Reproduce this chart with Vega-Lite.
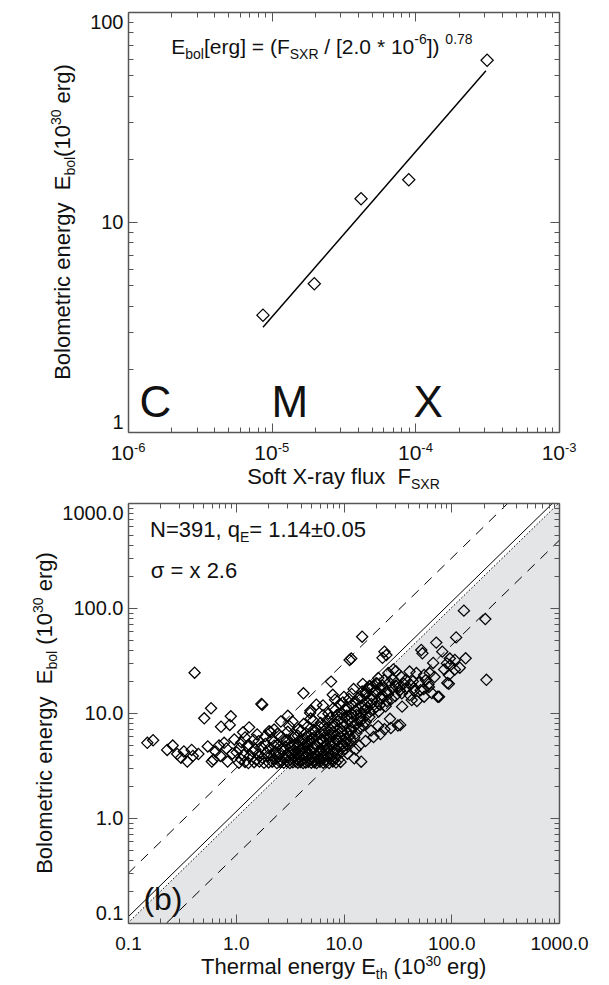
{
"$schema": "https://vega.github.io/schema/vega-lite/v6.json",
"padding": {"left": 31, "top": 11, "right": 5, "bottom": 5},
"spacing": 9,
"config": {
  "font": "Liberation Sans",
  "view": {"stroke": null},
  "axis": {"domainColor": "#555", "domainWidth": 1.5, "tickColor": "#555", "tickWidth": 1, "labelColor": "#111", "labelFont": "Liberation Sans", "labelFontSize": 20, "grid": false},
  "text": {"font": "Liberation Sans", "color": "#111"}
},
"vconcat": [
{
  "width": 431, "height": 420,
  "encoding": {
    "x": {"field": "x", "type": "quantitative", "scale": {"type": "log", "domain": [1e-6, 1e-3], "nice": false}, "axis": null},
    "y": {"field": "y", "type": "quantitative", "scale": {"type": "log", "domain": [1, 100], "nice": false}, "axis": null}
  },
  "resolve": {"axis": {"x": "independent", "y": "independent"}},
  "layer": [
    {
      "data": {"values": [{"x": 8.7e-6, "y": 3.6}, {"x": 1.98e-5, "y": 5.08}, {"x": 4.19e-5, "y": 12.9}, {"x": 9.0e-5, "y": 15.9}, {"x": 3.16e-4, "y": 58.9}]},
      "mark": {"type": "point", "shape": "diamond", "filled": false, "size": 150, "color": "#000", "strokeWidth": 1.2, "opacity": 1},
      "encoding": {
        "x": {"field": "x", "type": "quantitative", "scale": {"type": "log", "domain": [1e-6, 1e-3], "nice": false}, "axis": {"orient": "bottom", "values": [1e-6, 1e-5, 1e-4, 1e-3], "labels": false, "tickSize": -9, "domain": true, "title": null, "zindex": 1}},
        "y": {"field": "y", "type": "quantitative", "scale": {"type": "log", "domain": [1, 100], "nice": false}, "axis": {"orient": "left", "values": [1, 10, 100], "labelExpr": "datum.value >= 100 ? '100' : datum.value >= 10 ? '10' : '1'", "labelFlush": true, "labelPadding": 14, "labelOverlap": false, "tickSize": -9, "domain": true, "title": null, "zindex": 1}}
      }
    },
    {
      "data": {"values": [{"x": 8.7e-6, "y": 3.15}, {"x": 3.1e-4, "y": 52.5}]},
      "mark": {"type": "line", "color": "#000", "strokeWidth": 1.5},
      "encoding": {
        "x": {"field": "x", "type": "quantitative", "scale": {"type": "log", "domain": [1e-6, 1e-3], "nice": false}, "axis": {"orient": "top", "values": [1e-6, 1e-5, 1e-4, 1e-3], "labels": false, "tickSize": -9, "domain": true, "title": null, "zindex": 1}},
        "y": {"field": "y", "type": "quantitative", "scale": {"type": "log", "domain": [1, 100], "nice": false}, "axis": {"orient": "right", "values": [1, 10, 100], "labels": false, "tickSize": -9, "domain": true, "title": null, "zindex": 1}}
      }
    },
    {
      "data": {"values": [{"x": 1.55e-6, "y": 1.18, "t": "C"}, {"x": 1.34e-5, "y": 1.18, "t": "M"}, {"x": 1.23e-4, "y": 1.18, "t": "X"}]},
      "mark": {"type": "text", "fontSize": 44, "align": "center", "baseline": "alphabetic"},
      "encoding": {
        "text": {"field": "t"},
        "x": {"field": "x", "type": "quantitative", "scale": {"type": "log", "domain": [1e-6, 1e-3], "nice": false}, "axis": {"orient": "bottom", "values": [2e-6, 3e-6, 4e-6, 5e-6, 6e-6, 7e-6, 8e-6, 9e-6, 2e-5, 3e-5, 4e-5, 5e-5, 6e-5, 7e-5, 8e-5, 9e-5, 2e-4, 3e-4, 4e-4, 5e-4, 6e-4, 7e-4, 8e-4, 9e-4], "labels": false, "tickSize": -5, "domain": false, "title": null, "zindex": 1}},
        "y": {"field": "y", "type": "quantitative", "scale": {"type": "log", "domain": [1, 100], "nice": false}, "axis": {"orient": "left", "values": [2, 3, 4, 5, 6, 7, 8, 9, 20, 30, 40, 50, 60, 70, 80, 90], "labels": false, "tickSize": -5, "domain": false, "title": null, "zindex": 1}}
      }
    },
    {
      "data": {"values": [{"x": 1e-6, "y": 1, "b": "10", "e": "-6"}, {"x": 1e-5, "y": 1, "b": "10", "e": "-5"}, {"x": 1e-4, "y": 1, "b": "10", "e": "-4"}, {"x": 1e-3, "y": 1, "b": "10", "e": "-3"}]},
      "mark": {"type": "text", "fontSize": 21, "align": "right", "baseline": "alphabetic", "dx": 6, "dy": 28},
      "encoding": {
        "text": {"field": "b"},
        "x": {"field": "x", "type": "quantitative", "scale": {"type": "log", "domain": [1e-6, 1e-3], "nice": false}, "axis": {"orient": "top", "values": [2e-6, 3e-6, 4e-6, 5e-6, 6e-6, 7e-6, 8e-6, 9e-6, 2e-5, 3e-5, 4e-5, 5e-5, 6e-5, 7e-5, 8e-5, 9e-5, 2e-4, 3e-4, 4e-4, 5e-4, 6e-4, 7e-4, 8e-4, 9e-4], "labels": false, "tickSize": -5, "domain": false, "title": null, "zindex": 1}},
        "y": {"field": "y", "type": "quantitative", "scale": {"type": "log", "domain": [1, 100], "nice": false}, "axis": {"orient": "right", "values": [2, 3, 4, 5, 6, 7, 8, 9, 20, 30, 40, 50, 60, 70, 80, 90], "labels": false, "tickSize": -5, "domain": false, "title": null, "zindex": 1}}
      }
    },
    {
      "data": {"values": [{"x": 1e-6, "y": 1, "b": "10", "e": "-6"}, {"x": 1e-5, "y": 1, "b": "10", "e": "-5"}, {"x": 1e-4, "y": 1, "b": "10", "e": "-4"}, {"x": 1e-3, "y": 1, "b": "10", "e": "-3"}]},
      "mark": {"type": "text", "fontSize": 13, "align": "left", "baseline": "alphabetic", "dx": 6, "dy": 20},
      "encoding": {"text": {"field": "e"}}
    },
    {"data": {"values": [{"x": 2e-6, "y": 63, "t": "E"}]}, "mark": {"type": "text", "fontSize": 21, "align": "left", "baseline": "alphabetic", "dx": 0, "dy": 0}, "encoding": {"text": {"field": "t"}}},
    {"data": {"values": [{"x": 2e-6, "y": 63, "t": "bol"}]}, "mark": {"type": "text", "fontSize": 14, "align": "left", "baseline": "alphabetic", "dx": 14, "dy": 5}, "encoding": {"text": {"field": "t"}}},
    {"data": {"values": [{"x": 2e-6, "y": 63, "t": "[erg] = (F"}]}, "mark": {"type": "text", "fontSize": 21, "align": "left", "baseline": "alphabetic", "dx": 32.7, "dy": 0}, "encoding": {"text": {"field": "t"}}},
    {"data": {"values": [{"x": 2e-6, "y": 63, "t": "SXR"}]}, "mark": {"type": "text", "fontSize": 14, "align": "left", "baseline": "alphabetic", "dx": 118.5, "dy": 5}, "encoding": {"text": {"field": "t"}}},
    {"data": {"values": [{"x": 2e-6, "y": 63, "t": "/ [2.0 * 10"}]}, "mark": {"type": "text", "fontSize": 21, "align": "left", "baseline": "alphabetic", "dx": 153.1, "dy": 0}, "encoding": {"text": {"field": "t"}}},
    {"data": {"values": [{"x": 2e-6, "y": 63, "t": "-6"}]}, "mark": {"type": "text", "fontSize": 14, "align": "left", "baseline": "alphabetic", "dx": 243, "dy": -10}, "encoding": {"text": {"field": "t"}}},
    {"data": {"values": [{"x": 2e-6, "y": 63, "t": "])"}]}, "mark": {"type": "text", "fontSize": 21, "align": "left", "baseline": "alphabetic", "dx": 255.4, "dy": 0}, "encoding": {"text": {"field": "t"}}},
    {"data": {"values": [{"x": 2e-6, "y": 63, "t": "0.78"}]}, "mark": {"type": "text", "fontSize": 14, "align": "left", "baseline": "alphabetic", "dx": 274.1, "dy": -10}, "encoding": {"text": {"field": "t"}}},
    {"data": {"values": [{"x": 1e-6, "y": 10, "t": "Bolometric energy\u00a0\u00a0E"}]}, "mark": {"type": "text", "fontSize": 22, "angle": 270, "align": "left", "baseline": "alphabetic", "dx": -157.8, "dy": -58}, "encoding": {"text": {"field": "t"}}},
    {"data": {"values": [{"x": 1e-6, "y": 10, "t": "bol"}]}, "mark": {"type": "text", "fontSize": 14, "angle": 270, "align": "left", "baseline": "alphabetic", "dx": 46.4, "dy": -53}, "encoding": {"text": {"field": "t"}}},
    {"data": {"values": [{"x": 1e-6, "y": 10, "t": "(10"}]}, "mark": {"type": "text", "fontSize": 22, "angle": 270, "align": "left", "baseline": "alphabetic", "dx": 65.1, "dy": -58}, "encoding": {"text": {"field": "t"}}},
    {"data": {"values": [{"x": 1e-6, "y": 10, "t": "30"}]}, "mark": {"type": "text", "fontSize": 14, "angle": 270, "align": "left", "baseline": "alphabetic", "dx": 96.9, "dy": -67}, "encoding": {"text": {"field": "t"}}},
    {"data": {"values": [{"x": 1e-6, "y": 10, "t": "erg)"}]}, "mark": {"type": "text", "fontSize": 22, "angle": 270, "align": "left", "baseline": "alphabetic", "dx": 118.6, "dy": -58}, "encoding": {"text": {"field": "t"}}},
    {"data": {"values": [{"x": 3.162e-5, "y": 1, "t": "Soft X-ray flux\u00a0\u00a0F"}]}, "mark": {"type": "text", "fontSize": 22, "align": "left", "baseline": "alphabetic", "dx": -96.3, "dy": 52}, "encoding": {"text": {"field": "t"}}},
    {"data": {"values": [{"x": 3.162e-5, "y": 1, "t": "SXR"}]}, "mark": {"type": "text", "fontSize": 14, "align": "left", "baseline": "alphabetic", "dx": 67.5, "dy": 57}, "encoding": {"text": {"field": "t"}}}
  ]
},
{
  "width": 431, "height": 420,
  "encoding": {
    "x": {"field": "x", "type": "quantitative", "scale": {"type": "log", "domain": [0.1, 1000], "nice": false}, "axis": null},
    "y": {"field": "y", "type": "quantitative", "scale": {"type": "log", "domain": [0.1, 1000], "nice": false}, "axis": null}
  },
  "resolve": {"axis": {"x": "independent", "y": "independent"}},
  "layer": [
    {
      "data": {"values": [{"x": 0.1, "y": 0.1}, {"x": 1000, "y": 1000}]},
      "mark": {"type": "area", "color": "#e4e5e7", "opacity": 1},
      "encoding": {
        "x": {"field": "x", "type": "quantitative", "scale": {"type": "log", "domain": [0.1, 1000], "nice": false}, "axis": {"orient": "bottom", "values": [0.2, 0.3, 0.4, 0.5, 0.6, 0.7, 0.8, 0.9, 2, 3, 4, 5, 6, 7, 8, 9, 20, 30, 40, 50, 60, 70, 80, 90, 200, 300, 400, 500, 600, 700, 800, 900], "labels": false, "tickSize": -5, "domain": false, "title": null, "zindex": 1}},
        "y": {"field": "y", "type": "quantitative", "scale": {"type": "log", "domain": [0.1, 1000], "nice": false}, "axis": {"orient": "left", "values": [0.2, 0.3, 0.4, 0.5, 0.6, 0.7, 0.8, 0.9, 2, 3, 4, 5, 6, 7, 8, 9, 20, 30, 40, 50, 60, 70, 80, 90, 200, 300, 400, 500, 600, 700, 800, 900], "labels": false, "tickSize": -5, "domain": false, "title": null, "zindex": 1}},
        "y2": {"datum": 0.1}
      }
    },
    {
      "data": {"values": [{"x": 0.1, "y": 0.1}, {"x": 1000, "y": 1000}]},
      "mark": {"type": "line", "color": "#000", "strokeWidth": 1, "strokeDash": [1.5, 2]},
      "encoding": {
        "x": {"field": "x", "type": "quantitative", "scale": {"type": "log", "domain": [0.1, 1000], "nice": false}, "axis": {"orient": "top", "values": [0.2, 0.3, 0.4, 0.5, 0.6, 0.7, 0.8, 0.9, 2, 3, 4, 5, 6, 7, 8, 9, 20, 30, 40, 50, 60, 70, 80, 90, 200, 300, 400, 500, 600, 700, 800, 900], "labels": false, "tickSize": -5, "domain": false, "title": null, "zindex": 1}},
        "y": {"field": "y", "type": "quantitative", "scale": {"type": "log", "domain": [0.1, 1000], "nice": false}, "axis": {"orient": "right", "values": [0.2, 0.3, 0.4, 0.5, 0.6, 0.7, 0.8, 0.9, 2, 3, 4, 5, 6, 7, 8, 9, 20, 30, 40, 50, 60, 70, 80, 90, 200, 300, 400, 500, 600, 700, 800, 900], "labels": false, "tickSize": -5, "domain": false, "title": null, "zindex": 1}}
      }
    },
    {
      "data": {"values": [{"x": 0.1, "y": 0.114}, {"x": 877, "y": 1000}]},
      "mark": {"type": "line", "color": "#000", "strokeWidth": 1},
      "encoding": {
        "x": {"field": "x", "type": "quantitative", "scale": {"type": "log", "domain": [0.1, 1000], "nice": false}, "axis": {"orient": "top", "values": [0.1, 1, 10, 100, 1000], "labels": false, "tickSize": -9, "domain": true, "title": null, "zindex": 1}},
        "y": {"field": "y", "type": "quantitative", "scale": {"type": "log", "domain": [0.1, 1000], "nice": false}, "axis": {"orient": "right", "values": [0.1, 1, 10, 100, 1000], "labels": false, "tickSize": -9, "domain": true, "title": null, "zindex": 1}}
      }
    },
    {
      "data": {"values": [{"x": 0.1, "y": 0.296}, {"x": 337.4, "y": 1000}]},
      "mark": {"type": "line", "color": "#000", "strokeWidth": 1, "strokeDash": [10, 8]},
      "encoding": {}
    },
    {
      "data": {"values": [{"x": 0.228, "y": 0.1}, {"x": 1000, "y": 438.5}]},
      "mark": {"type": "line", "color": "#000", "strokeWidth": 1, "strokeDash": [10, 8]},
      "encoding": {}
    },
    {
      "data": {"values": [
{"x":0.151,"y":5.2},{"x":0.171,"y":5.5},{"x":0.231,"y":4.45},{"x":0.26,"y":4.9},{"x":0.286,"y":4.07},{"x":0.31,"y":3.75},{"x":0.355,"y":3.45},{"x":0.33,"y":4.3},{"x":0.39,"y":4.45},{"x":0.4,"y":3.9},{"x":0.45,"y":4.07},{"x":0.415,"y":24.2},{"x":0.51,"y":8.9},{"x":0.59,"y":11.1},{"x":0.6,"y":3.45},{"x":0.65,"y":4.3},{"x":0.7,"y":4.9},{"x":0.72,"y":3.9},{"x":0.73,"y":7.4},{"x":0.88,"y":7.7},{"x":0.9,"y":9.3},{"x":0.84,"y":3.45},{"x":0.93,"y":4.1},{"x":0.78,"y":5.2},{"x":0.97,"y":5.6},{"x":0.55,"y":4.8},{"x":0.62,"y":3.6},{"x":0.82,"y":4.6},{"x":1.73,"y":12.2},{"x":1.76,"y":12.0},{"x":2.1,"y":6.6},{"x":3.36,"y":8.3},{"x":4.25,"y":15.4},{"x":7.67,"y":19.9},{"x":5.6,"y":12.0},{"x":4.9,"y":10.0},{"x":14.9,"y":53.3},{"x":11.4,"y":32},{"x":11.8,"y":33},{"x":131,"y":94.4},{"x":207,"y":78.5},{"x":111,"y":52.5},{"x":72.6,"y":46.8},{"x":52.7,"y":39.8},{"x":54,"y":37},{"x":82.6,"y":38.4},{"x":24,"y":38.4},{"x":25,"y":35.6},{"x":23,"y":33.5},{"x":91,"y":29.7},{"x":97,"y":33},{"x":108,"y":32},{"x":136,"y":33.2},{"x":86,"y":26},{"x":95,"y":23},{"x":98,"y":28.5},{"x":108,"y":26},{"x":77,"y":14.3},{"x":95,"y":19},{"x":212,"y":20.7},{"x":92,"y":19.3},{"x":24,"y":20.6},{"x":28.5,"y":21.1},{"x":30.7,"y":19.3},{"x":34.5,"y":22},{"x":41,"y":24.8},{"x":47.5,"y":24},{"x":38,"y":20.6},{"x":44,"y":20},{"x":56,"y":23},{"x":58,"y":20.6},{"x":62,"y":17.7},{"x":56,"y":14.3},{"x":75,"y":14.3},{"x":33,"y":17.7},{"x":41,"y":14.8},{"x":43,"y":13.3},{"x":35,"y":11.5},{"x":33.6,"y":7.7},{"x":27.5,"y":7.2},{"x":14.6,"y":3.44},{"x":12.6,"y":3.7},{"x":10.9,"y":4.1},{"x":29,"y":26},{"x":26,"y":24},{"x":21,"y":21.5},{"x":18.6,"y":17.8},{"x":16,"y":15.5},{"x":20.6,"y":19},{"x":30.6,"y":25},{"x":63,"y":24},{"x":68,"y":30},{"x":70,"y":22},{"x":120,"y":27},{"x":45,"y":17.3},{"x":18,"y":6.8},{"x":21,"y":7.5},{"x":24,"y":7.0},{"x":27,"y":8.8},{"x":22,"y":6.3},{"x":19,"y":5.9},{"x":16,"y":5.4},{"x":14,"y":4.9},{"x":13,"y":4.5},{"x":32,"y":7.6},{"x":48,"y":13},{"x":52,"y":16.5},{"x":66,"y":15.5},
{"x":1.07,"y":3.36},{"x":1.22,"y":3.42},{"x":1.31,"y":3.34},{"x":1.48,"y":3.4},{"x":1.66,"y":3.45},{"x":1.83,"y":3.35},{"x":2.02,"y":3.38},{"x":2.18,"y":3.43},{"x":2.41,"y":3.33},{"x":2.58,"y":3.41},{"x":2.79,"y":3.36},{"x":3.02,"y":3.44},{"x":3.18,"y":3.34},{"x":3.39,"y":3.39},{"x":3.61,"y":3.45},{"x":3.77,"y":3.35},{"x":3.98,"y":3.41},{"x":4.22,"y":3.33},{"x":4.47,"y":3.38},{"x":4.71,"y":3.44},{"x":5.03,"y":3.35},{"x":5.36,"y":3.4},{"x":5.62,"y":3.33},{"x":6.05,"y":3.43},{"x":6.48,"y":3.36},{"x":6.92,"y":3.41},{"x":7.36,"y":3.34},{"x":7.95,"y":3.45},{"x":8.52,"y":3.37},{"x":9.4,"y":3.42},
{"x":1.12,"y":3.62},{"x":1.34,"y":3.85},{"x":1.55,"y":3.58},{"x":1.77,"y":3.74},{"x":1.98,"y":3.9},{"x":2.25,"y":3.66},{"x":2.44,"y":3.8},{"x":2.6,"y":3.56},{"x":2.88,"y":3.72},{"x":3.08,"y":3.88},{"x":3.22,"y":3.6},{"x":3.48,"y":3.76},{"x":3.7,"y":3.68},{"x":3.9,"y":3.84},{"x":4.08,"y":3.57},{"x":4.31,"y":3.7},{"x":4.55,"y":3.82},{"x":4.83,"y":3.64},{"x":5.15,"y":3.78},{"x":5.44,"y":3.59},{"x":5.76,"y":3.86},{"x":6.02,"y":3.69},{"x":6.35,"y":3.75},{"x":6.88,"y":3.61},{"x":7.2,"y":3.83},{"x":7.85,"y":3.67},{"x":8.4,"y":3.73},{"x":8.95,"y":3.58},
{"x":1.02,"y":4.22},{"x":1.18,"y":3.98},{"x":1.43,"y":4.31},{"x":1.62,"y":4.05},{"x":1.91,"y":4.18},{"x":2.12,"y":3.96},{"x":2.33,"y":4.27},{"x":2.52,"y":4.08},{"x":2.78,"y":4.36},{"x":2.97,"y":4.02},{"x":3.12,"y":4.21},{"x":3.37,"y":3.99},{"x":3.58,"y":4.3},{"x":3.83,"y":4.11},{"x":4.03,"y":4.38},{"x":4.18,"y":4.0},{"x":4.42,"y":4.24},{"x":4.68,"y":4.07},{"x":4.98,"y":4.33},{"x":5.27,"y":4.14},{"x":5.6,"y":3.97},{"x":6.0,"y":4.28},{"x":6.55,"y":4.09},{"x":6.95,"y":4.35},{"x":7.55,"y":4.03},{"x":8.15,"y":4.26},{"x":8.75,"y":4.12},{"x":9.7,"y":4.3},{"x":10.4,"y":4.55},
{"x":1.08,"y":4.62},{"x":1.28,"y":4.85},{"x":1.52,"y":4.5},{"x":1.72,"y":4.74},{"x":2.04,"y":4.58},{"x":2.27,"y":4.88},{"x":2.63,"y":4.53},{"x":2.87,"y":4.79},{"x":3.23,"y":4.64},{"x":3.46,"y":4.47},{"x":3.78,"y":4.83},{"x":4.05,"y":4.56},{"x":4.27,"y":4.72},{"x":4.63,"y":4.9},{"x":4.9,"y":4.49},{"x":5.35,"y":4.69},{"x":5.66,"y":4.86},{"x":6.15,"y":4.55},{"x":6.55,"y":4.76},{"x":7.15,"y":4.6},{"x":7.65,"y":4.84},{"x":8.45,"y":4.51},{"x":9.05,"y":4.73},{"x":10.1,"y":4.88},{"x":10.9,"y":5.02},
{"x":1.13,"y":5.25},{"x":1.32,"y":4.98},{"x":1.63,"y":5.38},{"x":1.88,"y":5.08},{"x":2.24,"y":5.3},{"x":2.47,"y":5.0},{"x":2.82,"y":5.42},{"x":3.17,"y":5.13},{"x":3.52,"y":4.96},{"x":3.94,"y":5.35},{"x":4.22,"y":5.06},{"x":4.64,"y":5.28},{"x":4.96,"y":5.45},{"x":5.43,"y":5.02},{"x":5.85,"y":5.22},{"x":6.45,"y":5.4},{"x":6.85,"y":4.99},{"x":7.45,"y":5.31},{"x":8.15,"y":5.1},{"x":8.75,"y":5.44},{"x":9.65,"y":5.05},{"x":10.45,"y":5.33},{"x":11.6,"y":5.48},
{"x":1.22,"y":5.85},{"x":1.47,"y":5.55},{"x":1.88,"y":6.02},{"x":2.17,"y":5.66},{"x":2.63,"y":5.93},{"x":2.97,"y":5.52},{"x":3.43,"y":5.8},{"x":3.77,"y":6.08},{"x":4.24,"y":5.6},{"x":4.58,"y":5.88},{"x":5.14,"y":5.71},{"x":5.55,"y":6.05},{"x":6.14,"y":5.54},{"x":6.66,"y":5.9},{"x":7.34,"y":5.73},{"x":7.95,"y":6.1},{"x":8.74,"y":5.58},{"x":9.45,"y":5.95},{"x":10.5,"y":5.68},{"x":11.4,"y":6.0},{"x":12.6,"y":5.85},
{"x":1.17,"y":6.55},{"x":1.58,"y":6.25},{"x":2.04,"y":6.7},{"x":2.46,"y":6.33},{"x":3.04,"y":6.62},{"x":3.47,"y":6.22},{"x":4.04,"y":6.78},{"x":4.47,"y":6.42},{"x":5.04,"y":6.28},{"x":5.47,"y":6.66},{"x":6.14,"y":6.36},{"x":6.66,"y":6.75},{"x":7.35,"y":6.2},{"x":7.96,"y":6.58},{"x":8.85,"y":6.3},{"x":9.65,"y":6.72},{"x":10.8,"y":6.45},{"x":11.7,"y":6.8},{"x":13.1,"y":6.4},
{"x":1.33,"y":7.3},{"x":2.27,"y":6.95},{"x":3.14,"y":7.5},{"x":3.86,"y":7.05},{"x":4.64,"y":7.42},{"x":5.26,"y":6.92},{"x":6.05,"y":7.35},{"x":6.64,"y":7.58},{"x":7.55,"y":7.0},{"x":8.25,"y":7.45},{"x":9.26,"y":7.12},{"x":10.1,"y":7.55},{"x":11.4,"y":6.98},{"x":12.4,"y":7.4},{"x":13.9,"y":7.15},{"x":15.2,"y":7.6},
{"x":2.62,"y":8.3},{"x":4.27,"y":7.85},{"x":5.24,"y":8.5},{"x":6.15,"y":8.05},{"x":7.05,"y":8.55},{"x":7.86,"y":7.9},{"x":8.85,"y":8.35},{"x":9.75,"y":8.0},{"x":10.95,"y":8.6},{"x":11.9,"y":8.15},{"x":13.4,"y":7.95},{"x":14.5,"y":8.45},{"x":16.1,"y":8.2},
{"x":3.04,"y":9.4},{"x":4.96,"y":8.85},{"x":6.45,"y":9.5},{"x":7.55,"y":9.0},{"x":8.65,"y":9.55},{"x":9.55,"y":8.9},{"x":10.75,"y":9.35},{"x":11.85,"y":9.05},{"x":13.2,"y":9.6},{"x":14.4,"y":8.95},{"x":16.1,"y":9.45},{"x":17.4,"y":9.15},
{"x":4.93,"y":10.5},{"x":7.25,"y":9.85},{"x":8.35,"y":10.65},{"x":9.55,"y":10.1},{"x":10.55,"y":10.8},{"x":11.85,"y":9.9},{"x":12.95,"y":10.45},{"x":14.5,"y":10.0},{"x":15.7,"y":10.7},{"x":17.5,"y":10.2},{"x":18.9,"y":10.8},{"x":21.2,"y":10.35},
{"x":6.45,"y":11.8},{"x":8.05,"y":11.1},{"x":9.25,"y":12.1},{"x":10.65,"y":11.3},{"x":11.95,"y":11.9},{"x":13.5,"y":11.05},{"x":14.9,"y":11.7},{"x":16.7,"y":11.2},{"x":18.1,"y":12.2},{"x":20.1,"y":11.45},{"x":21.9,"y":12.0},{"x":24.6,"y":11.6},
{"x":8.35,"y":13.4},{"x":9.85,"y":12.6},{"x":11.25,"y":13.6},{"x":12.95,"y":12.8},{"x":14.5,"y":13.7},{"x":16.5,"y":12.7},{"x":18.2,"y":13.3},{"x":20.4,"y":12.9},{"x":22.4,"y":13.8},{"x":25.2,"y":13.0},{"x":27.8,"y":13.6},
{"x":7.95,"y":14.9},{"x":10.1,"y":14.2},{"x":11.9,"y":15.2},{"x":14.1,"y":14.3},{"x":15.9,"y":15.0},{"x":18.3,"y":14.4},{"x":20.4,"y":15.3},{"x":23.1,"y":14.6},{"x":25.9,"y":15.1},{"x":30.2,"y":14.5},{"x":34.8,"y":15.4},
{"x":12.4,"y":16.9},{"x":14.9,"y":16.0},{"x":16.9,"y":17.3},{"x":19.6,"y":16.2},{"x":21.9,"y":17.0},{"x":25.1,"y":16.1},{"x":28.4,"y":17.2},{"x":33.2,"y":16.4},{"x":37.8,"y":17.1},{"x":45.3,"y":16.3},{"x":55.5,"y":16.9},
{"x":15.1,"y":18.9},{"x":17.4,"y":18.1},{"x":20.1,"y":19.2},{"x":22.9,"y":18.3},{"x":26.6,"y":19.5},{"x":30.4,"y":18.2},{"x":36.2,"y":19.0},{"x":41.8,"y":18.6},{"x":50.3,"y":19.4},{"x":61.5,"y":18.8}
      ]},
      "mark": {"type": "point", "shape": "diamond", "filled": false, "size": 125, "color": "#000", "strokeWidth": 1.25, "opacity": 1},
      "encoding": {
        "x": {"field": "x", "type": "quantitative", "scale": {"type": "log", "domain": [0.1, 1000], "nice": false}, "axis": {"orient": "bottom", "values": [0.1, 1, 10, 100, 1000], "labelExpr": "format(datum.value, '.1f')", "labelFlush": false, "labelPadding": 20, "labelFontSize": 19, "labelOverlap": false, "tickSize": -9, "domain": true, "title": null, "zindex": 1}},
        "y": {"field": "y", "type": "quantitative", "scale": {"type": "log", "domain": [0.1, 1000], "nice": false}, "axis": {"orient": "left", "values": [0.1, 1, 10, 100, 1000], "labelExpr": "format(datum.value, '.1f')", "labelFlush": true, "labelPadding": 14, "labelOverlap": false, "tickSize": -9, "domain": true, "title": null, "zindex": 1}}
      }
    },
    {"data": {"values": [{"x": 0.16, "y": 475, "t": "N=391, q"}]}, "mark": {"type": "text", "fontSize": 22, "align": "left", "baseline": "alphabetic", "dx": 0, "dy": 0}, "encoding": {"text": {"field": "t"}}},
    {"data": {"values": [{"x": 0.16, "y": 475, "t": "E"}]}, "mark": {"type": "text", "fontSize": 14, "align": "left", "baseline": "alphabetic", "dx": 89.9, "dy": 5}, "encoding": {"text": {"field": "t"}}},
    {"data": {"values": [{"x": 0.16, "y": 475, "t": "= 1.14±0.05"}]}, "mark": {"type": "text", "fontSize": 22, "align": "left", "baseline": "alphabetic", "dx": 99.2, "dy": 0}, "encoding": {"text": {"field": "t"}}},
    {"data": {"values": [{"x": 0.163, "y": 192, "t": "σ = x 2.6"}]}, "mark": {"type": "text", "fontSize": 22, "align": "left", "baseline": "alphabetic"}, "encoding": {"text": {"field": "t"}}},
    {"data": {"values": [{"x": 0.139, "y": 0.133, "t": "(b)"}]}, "mark": {"type": "text", "fontSize": 32, "align": "left", "baseline": "alphabetic"}, "encoding": {"text": {"field": "t"}}},
    {"data": {"values": [{"x": 0.1, "y": 10, "t": "Bolometric energy\u00a0\u00a0E"}]}, "mark": {"type": "text", "fontSize": 22, "angle": 270, "align": "left", "baseline": "alphabetic", "dx": -160.8, "dy": -76}, "encoding": {"text": {"field": "t"}}},
    {"data": {"values": [{"x": 0.1, "y": 10, "t": "bol"}]}, "mark": {"type": "text", "fontSize": 14, "angle": 270, "align": "left", "baseline": "alphabetic", "dx": 43.4, "dy": -71}, "encoding": {"text": {"field": "t"}}},
    {"data": {"values": [{"x": 0.1, "y": 10, "t": "(10"}]}, "mark": {"type": "text", "fontSize": 22, "angle": 270, "align": "left", "baseline": "alphabetic", "dx": 68.2, "dy": -76}, "encoding": {"text": {"field": "t"}}},
    {"data": {"values": [{"x": 0.1, "y": 10, "t": "30"}]}, "mark": {"type": "text", "fontSize": 14, "angle": 270, "align": "left", "baseline": "alphabetic", "dx": 100, "dy": -85}, "encoding": {"text": {"field": "t"}}},
    {"data": {"values": [{"x": 0.1, "y": 10, "t": "erg)"}]}, "mark": {"type": "text", "fontSize": 22, "angle": 270, "align": "left", "baseline": "alphabetic", "dx": 121.7, "dy": -76}, "encoding": {"text": {"field": "t"}}},
    {"data": {"values": [{"x": 10, "y": 0.1, "t": "Thermal energy E"}]}, "mark": {"type": "text", "fontSize": 22, "align": "left", "baseline": "alphabetic", "dx": -142.5, "dy": 51}, "encoding": {"text": {"field": "t"}}},
    {"data": {"values": [{"x": 10, "y": 0.1, "t": "th"}]}, "mark": {"type": "text", "fontSize": 14, "align": "left", "baseline": "alphabetic", "dx": 32.3, "dy": 56}, "encoding": {"text": {"field": "t"}}},
    {"data": {"values": [{"x": 10, "y": 0.1, "t": "(10"}]}, "mark": {"type": "text", "fontSize": 22, "align": "left", "baseline": "alphabetic", "dx": 50.1, "dy": 51}, "encoding": {"text": {"field": "t"}}},
    {"data": {"values": [{"x": 10, "y": 0.1, "t": "30"}]}, "mark": {"type": "text", "fontSize": 14, "align": "left", "baseline": "alphabetic", "dx": 81.9, "dy": 43}, "encoding": {"text": {"field": "t"}}},
    {"data": {"values": [{"x": 10, "y": 0.1, "t": "erg)"}]}, "mark": {"type": "text", "fontSize": 22, "align": "left", "baseline": "alphabetic", "dx": 103.6, "dy": 51}, "encoding": {"text": {"field": "t"}}}
  ]
}
]
}
